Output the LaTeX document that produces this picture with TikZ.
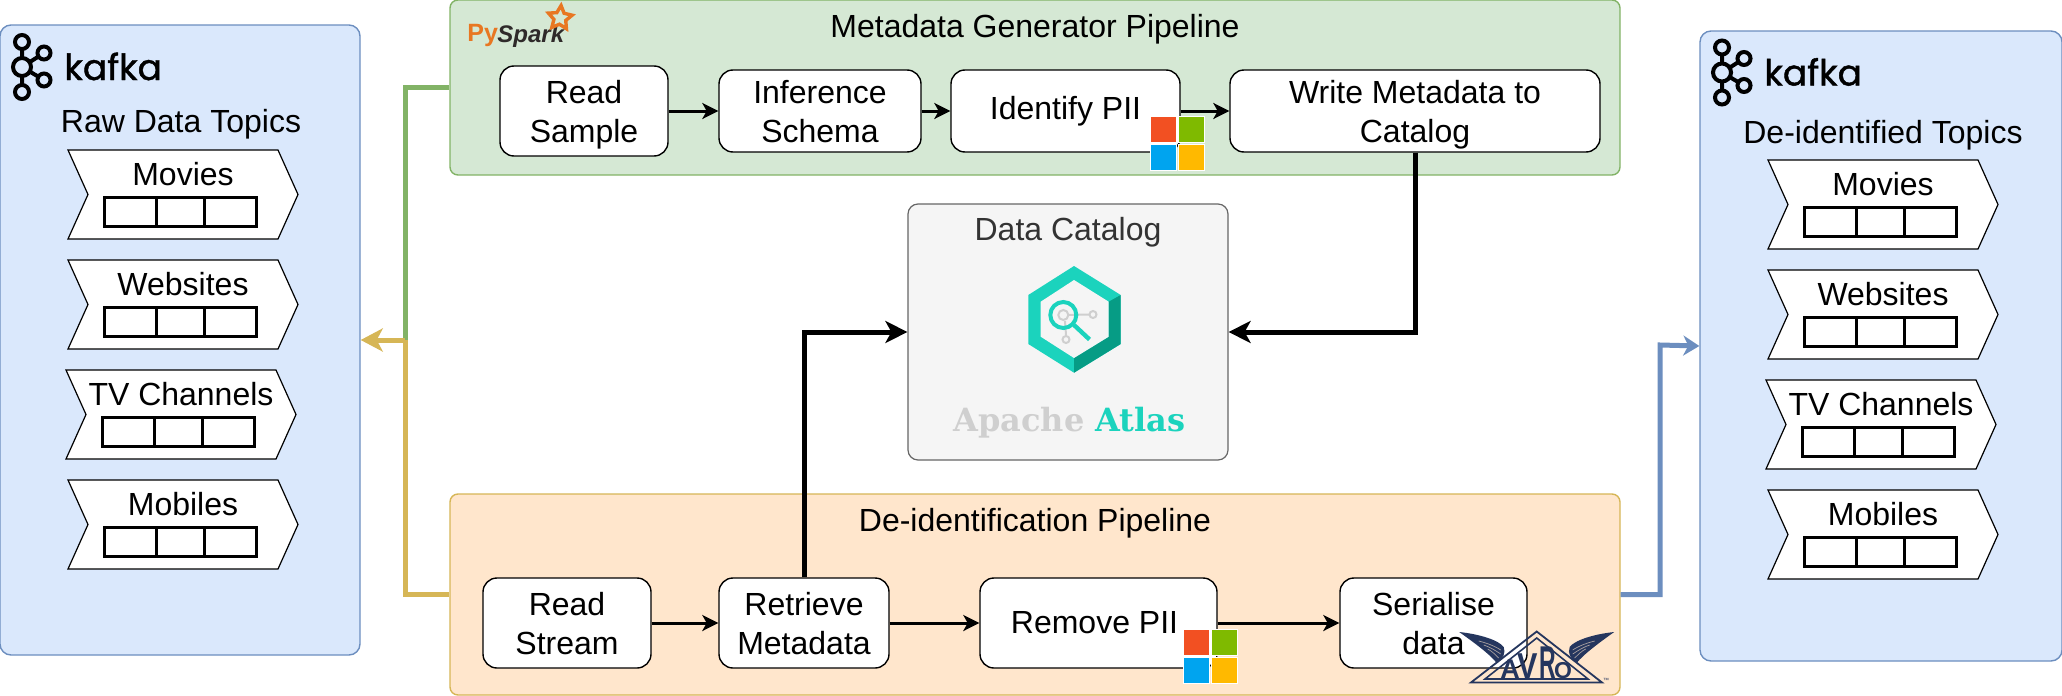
\documentclass[tikz,border=0pt]{standalone}
\usepackage{fontspec}
\setmainfont{Liberation Sans}
\newfontfamily\kafkafont[FakeBold=1.2]{Poppins}
\newfontfamily\slabfont{DejaVu Serif}
\usetikzlibrary{arrows.meta,shapes.geometric}
\definecolor{bluefill}{HTML}{DAE8FC}
\definecolor{blueline}{HTML}{6C8EBF}
\definecolor{greenfill}{HTML}{D5E8D4}
\definecolor{greenline}{HTML}{82B366}
\definecolor{orangefill}{HTML}{FFE6CC}
\definecolor{yellowline}{HTML}{D6B656}
\definecolor{catfill}{HTML}{F5F5F5}
\definecolor{catline}{HTML}{666666}
\definecolor{cattext}{HTML}{333333}
\definecolor{atlasteal}{HTML}{1BD3BD}
\definecolor{atlasdark}{HTML}{069C85}
\definecolor{atlasgrey}{HTML}{CFCFCF}
\definecolor{sparkorange}{HTML}{E87722}
\definecolor{sparkdark}{HTML}{2F2A2A}
\definecolor{avronavy}{HTML}{25365E}
\definecolor{msred}{HTML}{F25022}
\definecolor{msgreen}{HTML}{7FBA00}
\definecolor{msblue}{HTML}{00A4EF}
\definecolor{msyellow}{HTML}{FFB900}
\begin{document}
\begin{tikzpicture}[
	x=0.5pt, y=-0.5pt,
	every node/.style={font=\fontsize{16}{19.25}\selectfont, inner sep=0pt},
	stepbox/.style={rectangle, rounded corners=7pt, draw=black, fill=white, line width=0.7pt, align=center, minimum height=41pt},
	tallbox/.style={stepbox, minimum height=45pt},
	twolines/.style={text height=31pt, text depth=0pt},
	bluepanel/.style={rectangle, rounded corners=5.5pt, draw=blueline, fill=bluefill, line width=0.7pt, minimum width=180pt, minimum height=315pt},
	greenpipe/.style={rectangle, rounded corners=4pt, draw=greenline, fill=greenfill, line width=0.7pt, minimum width=585pt, minimum height=87.5pt},
	orangepipe/.style={rectangle, rounded corners=4pt, draw=yellowline, fill=orangefill, line width=0.7pt, minimum width=585pt, minimum height=100.5pt},
	catalogbox/.style={rectangle, rounded corners=5pt, draw=catline, fill=catfill, line width=0.6pt, minimum width=160pt, minimum height=128pt},
	title/.style={anchor=base},
	thinarrow/.style={draw=black, line width=1.5pt, -{Stealth[length=8pt, width=8pt, inset=2.2pt]}},
	thickarrow/.style={draw=black, line width=2.5pt, -{Stealth[length=11pt, width=11pt, inset=3pt]}},
	pics/topic/.style={code={
		\draw[fill=white, draw=black, line width=0.6pt] (0,0) -- (210,0) -- (230,44.5) -- (210,89) -- (0,89) -- (20,44.5) -- cycle;
		\node[title] (name) at (115,35) {#1};
		\draw[black, line width=1.5pt] (36,47) rectangle (188,76) (88,47) -- (88,76) (136,47) -- (136,76);
	}},
	pics/kafkalogo/.style={code={
		\draw[black, line width=2pt] (22,49) -- (22,85) (22,67) -- (44,53) (22,67) -- (44,80);
		\foreach \cx/\cy/\cr in {22/42/7, 22/92/7, 44/53/6.5, 44/80/6.5, 22/67/9}
			\draw[black, fill=bluefill, line width=2pt] (\cx,\cy) circle [radius=\cr];
		\node[anchor=base west, font=\kafkafont\fontsize{18}{20}\selectfont] (word) at (64,80) {kafka};
	}},
	pics/mslogo/.style={code={
		\draw[draw=white, line width=0.4pt, fill=msred] (0,0) rectangle (26,26);
		\draw[draw=white, line width=0.4pt, fill=msgreen] (28,0) rectangle (54,26);
		\draw[draw=white, line width=0.4pt, fill=msblue] (0,28) rectangle (26,54);
		\draw[draw=white, line width=0.4pt, fill=msyellow] (28,28) rectangle (54,54);
	}},
	]
	\useasboundingbox (0,0) rectangle (2062,696);

	%Panels
	\node[bluepanel]	(rawpanel)	at (180,340)	{};
	\node[bluepanel, minimum width=181pt]	(deidpanel)	at (1881,346)	{};
	\node[greenpipe]	(metapipe)	at (1035,87.5)	{};
	\node[orangepipe]	(deidpipe)	at (1035,594.5)	{};
	\node[catalogbox]	(catalog)	at (1068,332)	{};

	%Titles
	\node[title]	(rawtitle)	at (181,132)	{Raw Data Topics};
	\node[title]	(deidtitle)	at (1883,143)	{De-identified Topics};
	\node[title]	(metatitle)	at (1035,37)	{Metadata Generator Pipeline};
	\node[title]	(pipetitle)	at (1035,531)	{De-identification Pipeline};
	\node[title, text=cattext]	(cattitle)	at (1068,240)	{Data Catalog};

	%Topics
	\pic (rawmovies)	at (68,150)		{topic=Movies};
	\pic (rawsites)		at (68,260)		{topic=Websites};
	\pic (rawtv)		at (66,370)		{topic=TV Channels};
	\pic (rawmobiles)	at (68,480)		{topic=Mobiles};
	\pic (outmovies)	at (1768,160)	{topic=Movies};
	\pic (outsites)		at (1768,270)	{topic=Websites};
	\pic (outtv)		at (1766,380)	{topic=TV Channels};
	\pic (outmobiles)	at (1768,490)	{topic=Mobiles};

	%Steps
	\node[tallbox, twolines, minimum width=84pt]	(readsample)	at (584,111)	{Read\\Sample};
	\node[stepbox, twolines, minimum width=101pt]	(inference)		at (820,111)	{Inference\\Schema};
	\node[stepbox, minimum width=114.5pt]			(identify)		at (1065.5,111)	{Identify PII};
	\node[stepbox, twolines, minimum width=185pt]	(writemeta)		at (1415,111)	{Write Metadata to\\Catalog};
	\node[tallbox, twolines, minimum width=84pt]	(readstream)	at (567,623)	{Read\\Stream};
	\node[tallbox, twolines, minimum width=85pt]	(retrieve)		at (804,623)	{Retrieve\\Metadata};
	\node[tallbox, minimum width=118.5pt]			(removepii)		at (1098.5,623)	{Remove PII\hspace{4pt}};
	\node[tallbox, twolines, minimum width=93.5pt]	(serialise)		at (1433.5,623)	{Serialise\\data};

	%Lines
	\coordinate (rawturn) at (405,340);
	\coordinate (outturn) at (1660,345);
	\draw[greenline, line width=2.5pt] (metapipe.west) -| (rawturn);
	\draw[yellowline, line width=2.5pt] (deidpipe.west) -| (rawturn);
	\draw[yellowline, line width=2.5pt, -{Stealth[length=11pt, width=11.5pt, inset=3pt]}] (rawturn) -- (rawpanel.east);
	\draw[blueline, line width=2.5pt, -{Stealth[length=8pt, width=10pt, inset=2.5pt]}] (deidpipe.east) -| (outturn) -- (deidpanel.west);
	\draw[thickarrow] (writemeta.south) |- (catalog.east);
	\draw[thickarrow] (retrieve.north) |- (catalog.west);
	\draw[thinarrow] (readsample) -- (inference);
	\draw[thinarrow] (inference) -- (identify);
	\draw[thinarrow] (identify) -- (writemeta);
	\draw[thinarrow] (readstream) -- (retrieve);
	\draw[thinarrow] (retrieve) -- (removepii);
	\draw[thinarrow] (removepii) -- (serialise);

	%Kafka
	\pic (rawkafka)	at (0,0)		{kafkalogo};
	\pic (outkafka)	at (1700,5.5)	{kafkalogo};

	%Microsoft
	\pic (identifyms)	at (1150,116)	{mslogo};
	\pic (removems)		at (1183,629)	{mslogo};

	%PySpark
	\node[anchor=base west, text=sparkorange, font=\bfseries\fontsize{12.5}{14}\selectfont]	(py)	at (467,41)		{Py};
	\node[anchor=base west, text=sparkdark, font=\bfseries\itshape\fontsize{12}{14}\selectfont]	(spark)	at (497,42)		{Spark};
	\node[star, star points=5, star point ratio=2, minimum size=12.5pt, rotate=-5, draw=sparkorange, line width=1.7pt]	(sparkstar)	at (560,18)	{};

	%Atlas
	\fill[atlasteal] (1074,266) -- (1120.7,295) -- (1120.7,344) -- (1074,372.7) -- (1028.3,344) -- (1028.3,295) -- cycle;
	\fill[atlasdark] (1120.7,295) -- (1120.7,344) -- (1074,372.7) -- (1074,358) -- (1108.7,336.7) -- (1108.7,301.7) -- cycle;
	\fill[catfill] (1074,280) -- (1108.7,301.7) -- (1108.7,336.7) -- (1074,358) -- (1040.7,336.7) -- (1040.7,301.7) -- cycle;
	\draw[atlasgrey, line width=1pt] (1063.3,315) -- (1089,314.5) (1065,321) -- (1066,335);
	\draw[atlasgrey, line width=1pt, fill=catfill] (1063.3,315) circle [radius=5] (1093,314.5) circle [radius=3.5] (1066,339.5) circle [radius=3.5];
	\draw[atlasteal, line width=2pt] (1063.3,315) circle [radius=13];
	\draw[atlasteal, line width=2.2pt] (1074,325) -- (1089.5,339.5);
	\node[anchor=base west, text=atlasgrey, font=\slabfont\bfseries\fontsize{16}{18}\selectfont]	(apache)	at (953,431.7)	{Apache};
	\node[anchor=base west, text=atlasteal, font=\slabfont\bfseries\fontsize{16}{18}\selectfont]	(atlas)		at (1095,431.7)	{Atlas};

	%Avro
	\draw[avronavy, line width=0.9pt] (1536.7,631.5) -- (1602,682.5) -- (1471,682.5) -- cycle;
	\draw[avronavy, line width=0.8pt] (1536.7,638) -- (1588,679) -- (1485,679) -- cycle;
	\node[anchor=base, text=avronavy, font=\bfseries\fontsize{13.5}{14}\selectfont]	(avroa)	at (1510,678)	{A};
	\node[anchor=base, text=avronavy, xscale=0.85, font=\bfseries\fontsize{18}{18}\selectfont]	(avrov)	at (1528,678)	{V};
	\node[anchor=base, text=avronavy, xscale=0.5, font=\bfseries\fontsize{23}{24}\selectfont]	(avror)	at (1547.5,678)	{R};
	\node[anchor=base, text=avronavy, font=\bfseries\fontsize{11.5}{12}\selectfont]	(avroo)	at (1563,678)	{O};
	\node[anchor=base, text=avronavy, font=\fontsize{3}{4}\selectfont]	(avrotm)	at (1606,682)	{™};
	\foreach \flip in {1,-1}{
		\begin{scope}[shift={(1536.7,0)}, xscale=\flip]
			\fill[avronavy] (-77.5,632) .. controls (-58,634) and (-38,640) .. (-33,647) .. controls (-31,653) and (-33,658) .. (-40,663) .. controls (-46,655) and (-62,643) .. cycle;
			\draw[orangefill!60!avronavy, line width=0.35pt] (-58,641) .. controls (-50,643) and (-42,646) .. (-36,650) (-53,645) .. controls (-47,647) and (-42,650) .. (-36,654) (-49,649) .. controls (-45,651) and (-42,654) .. (-38,658);
		\end{scope}
	}

\end{tikzpicture}
\end{document}
